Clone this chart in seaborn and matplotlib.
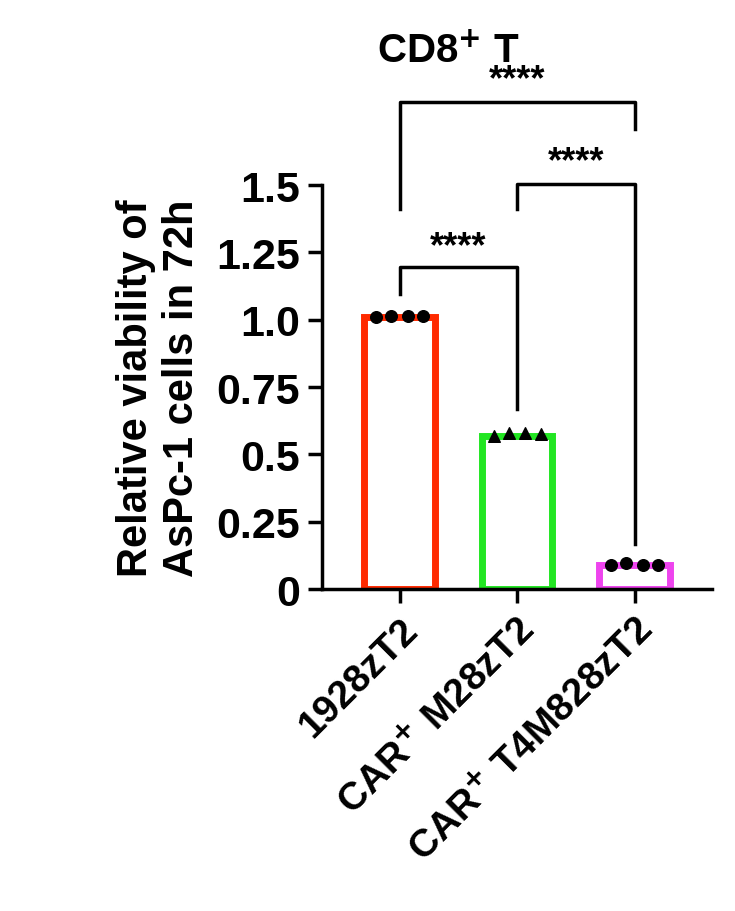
import numpy as np
import pandas as pd
import matplotlib
matplotlib.use("Agg")
import matplotlib.pyplot as plt
import seaborn as sns

groups = ["1928zT2", "CAR$^{+}$ M28zT2", "CAR$^{+}$ T4M828zT2"]
means = [1.01, 0.57, 0.09]
reps = [[1.01, 1.015, 1.015, 1.015], [0.57, 0.58, 0.58, 0.575], [0.09, 0.095, 0.09, 0.09]]
colors = ["#ff2a00", "#22e622", "#ee44ee"]
markers = ["o", "^", "o"]
yticks = [0, 0.25, 0.5, 0.75, 1.0, 1.25, 1.5]
yticklabels = ["0", "0.25", "0.5", "0.75", "1.0", "1.25", "1.5"]

plt.rcParams["font.family"] = "Liberation Sans"
plt.rcParams["font.weight"] = "bold"

fig = plt.figure(figsize=(7.35, 9.12), dpi=100)
ax = fig.add_axes([0.438, 0.353, 0.531, 0.443])

df = pd.DataFrame({"group": groups, "value": means})
sns.barplot(data=df, x="group", y="value", order=groups, ax=ax,
            color="white", width=0.6, errorbar=None)
for patch, c in zip(ax.patches, colors):
    patch.set_edgecolor(c)
    patch.set_linewidth(5)
    patch.set_facecolor("white")

offs = [-0.2, -0.07, 0.07, 0.2]
for i, (vals, m) in enumerate(zip(reps, markers)):
    ax.scatter([i + o for o in offs], vals, marker=m, s=70, color="black", zorder=5, clip_on=False)

ax.set_xlim(-0.66, 2.66)
ax.set_ylim(0, 1.5)
ax.set_yticks(yticks)
ax.set_yticklabels(yticklabels, fontsize=31, fontweight="bold")
ax.set_xticks(range(3))
ax.set_xticklabels(groups, rotation=45, ha="right", rotation_mode="anchor",
                   fontsize=28, fontweight="bold")
ax.set_xlabel("")
ax.set_ylabel("Relative viability of\nAsPc-1 cells in 72h", fontsize=30, fontweight="bold", labelpad=10)
for s in ["top", "right"]:
    ax.spines[s].set_visible(False)
for s in ["left", "bottom"]:
    ax.spines[s].set_linewidth(2.5)
ax.tick_params(width=2.5, length=10, pad=6)

def bracket(x1, x2, y, y1, y2, ty):
    ax.plot([x1, x1, x2, x2], [y1, y, y, y2], color="black", lw=2.5, clip_on=False)
    ax.text((x1 + x2) / 2, ty, "****", ha="center", va="center", fontsize=26, fontweight="bold")

bracket(0, 1, 1.196, 1.095, 0.668, 1.27)
bracket(1, 2, 1.504, 1.411, 0.167, 1.585)
bracket(0, 2, 1.808, 1.411, 1.708, 1.89)

fig.text(0.61, 0.943, "CD8$^{+}$ T", ha="center", va="center", fontsize=29, fontweight="bold")

fig.savefig("out.png", dpi=100)
